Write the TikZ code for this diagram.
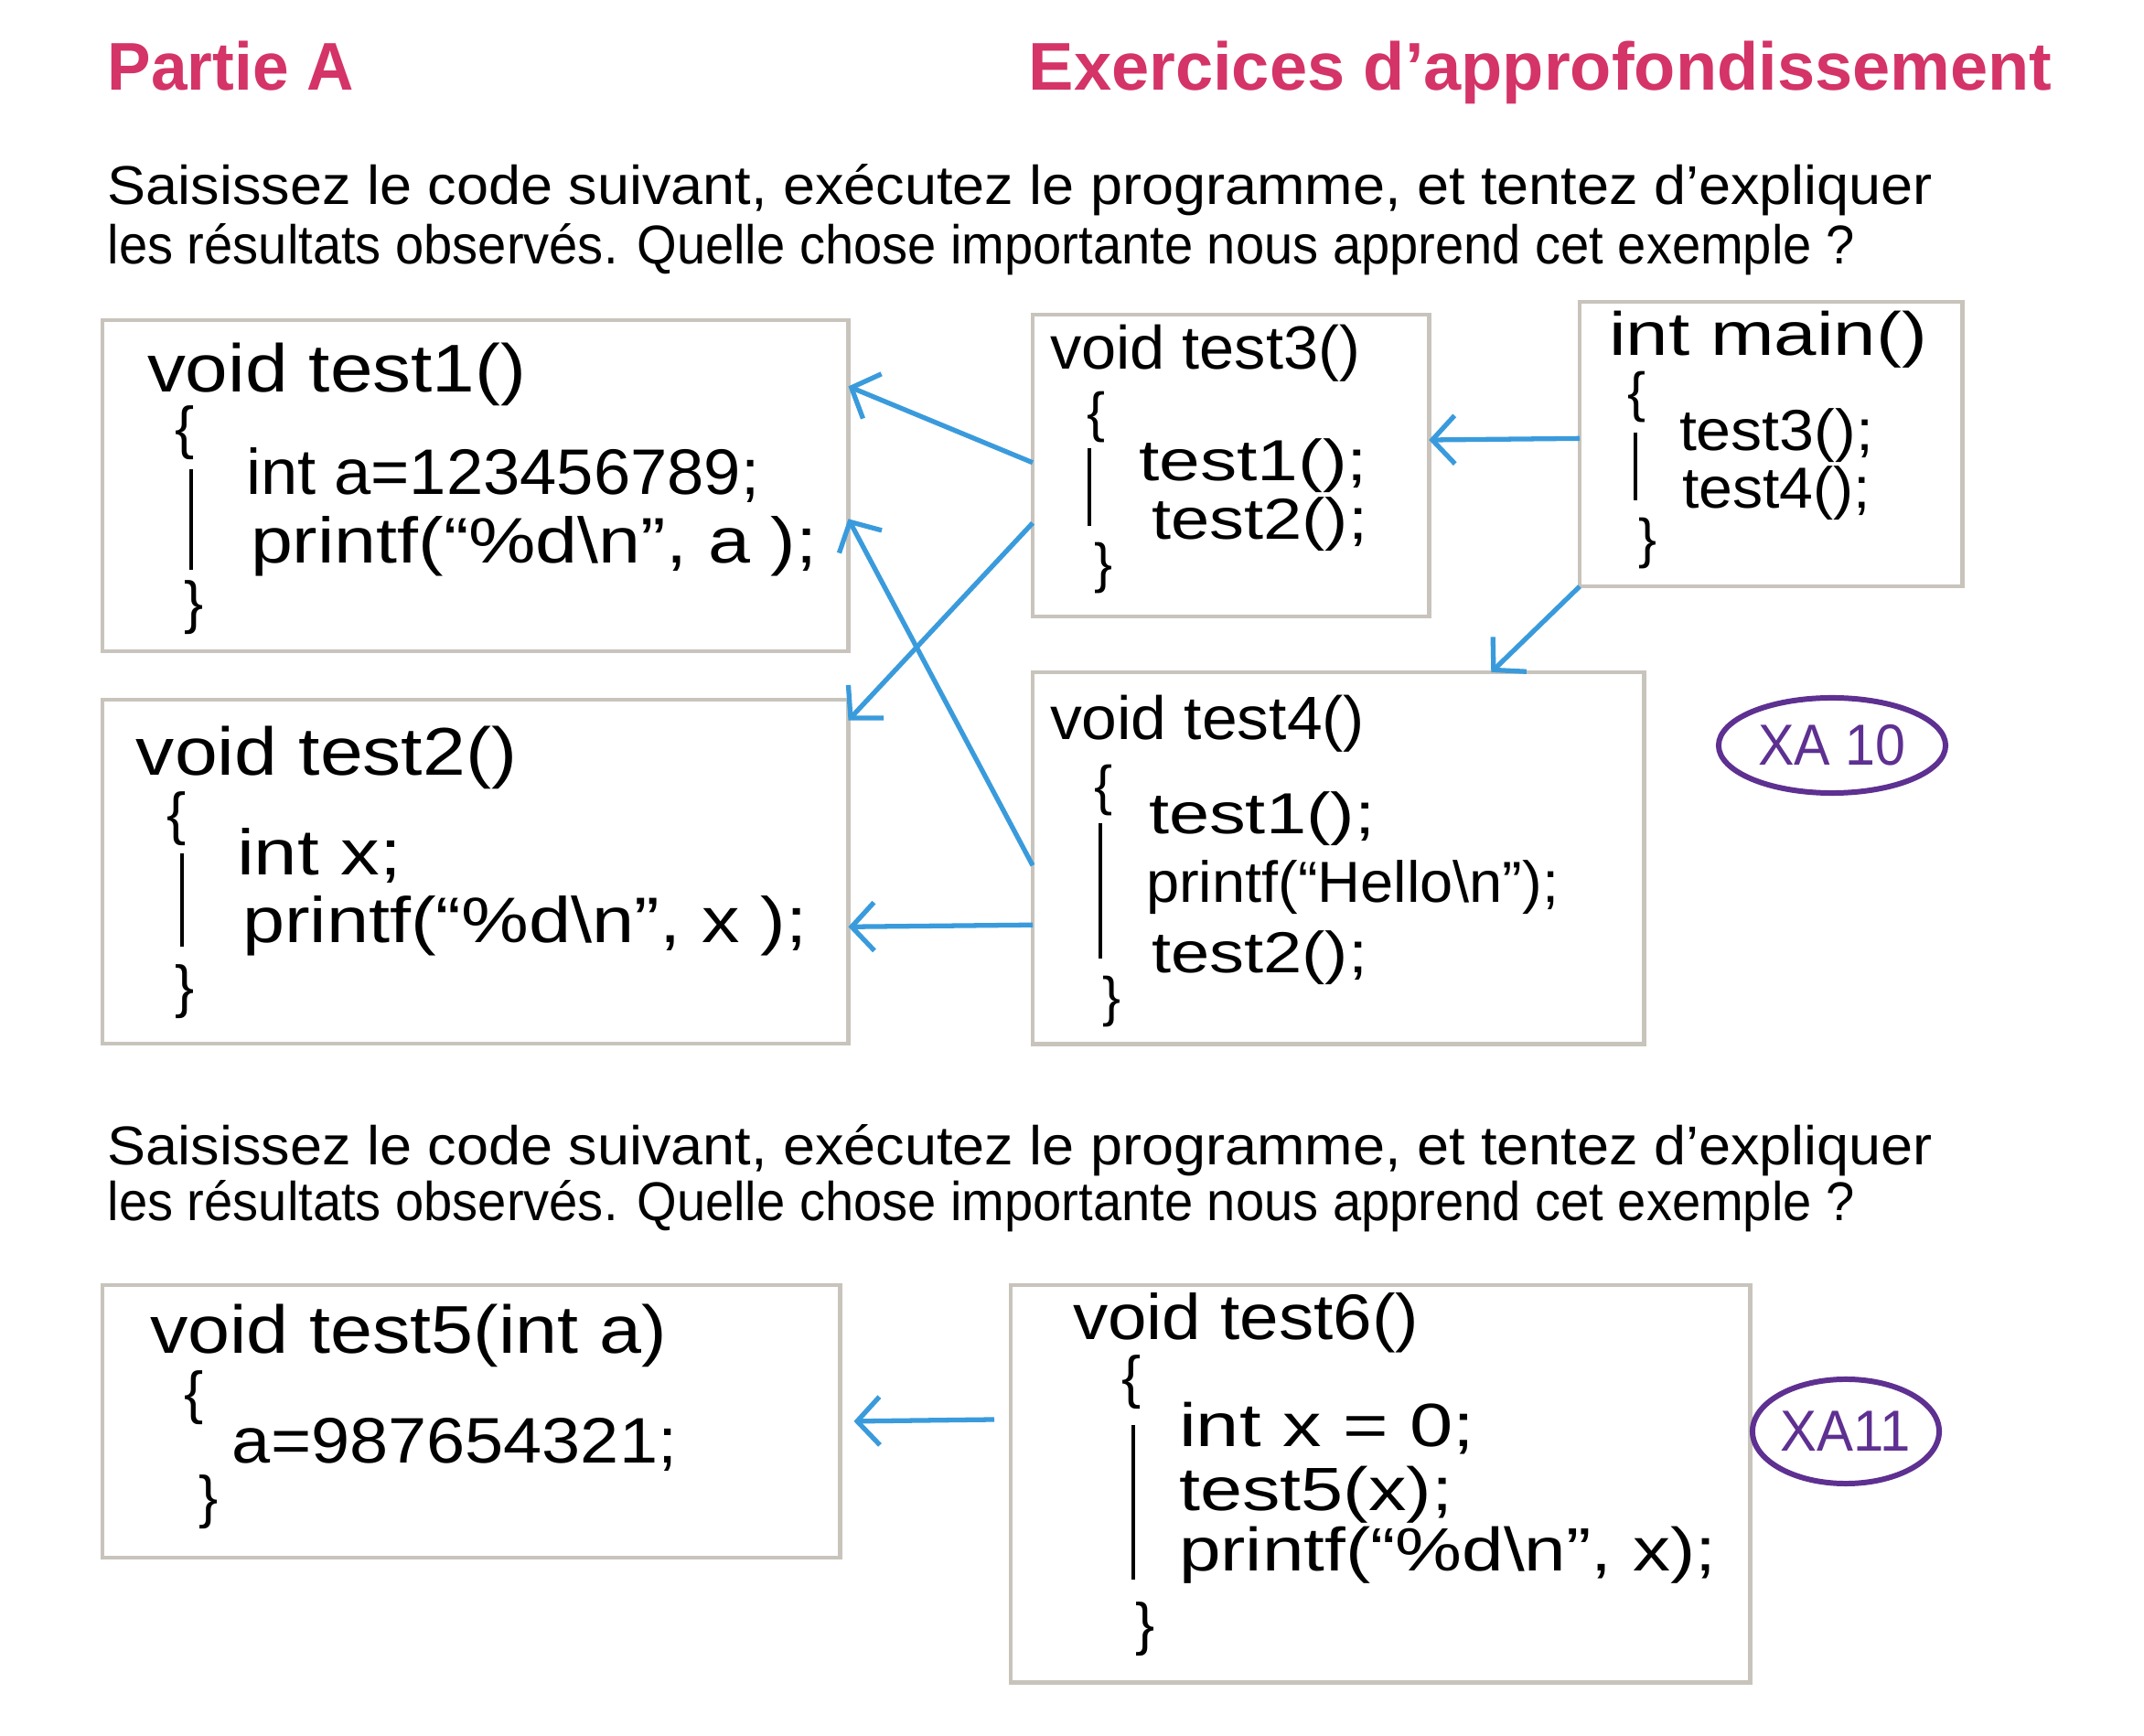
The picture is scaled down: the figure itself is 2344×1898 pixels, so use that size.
\documentclass[tikz,border=0pt]{standalone}
\usepackage{fontspec}
\usepackage{graphicx}
\setmainfont{Liberation Sans}
\usetikzlibrary{arrows.meta,calc,shapes.geometric}
\definecolor{pinkT}{RGB}{212,52,104}
\definecolor{blueA}{RGB}{58,155,220}
\definecolor{purpleC}{RGB}{94,48,145}
\definecolor{grayB}{RGB}{200,196,188}
\newcommand{\fw}[2]{\resizebox{#1cm}{\height}{#2}}
\tikzset{
  box/.style={draw=grayB, line width=1.3pt, fill=white, inner sep=0pt, outer sep=0pt, anchor=north west},
  code/.style={anchor=base west, inner sep=0pt, outer sep=0pt, font=\fontsize{#1}{#1}\selectfont},
  ttl/.style={anchor=base west, inner sep=0pt, text=pinkT, font=\fontsize{21}{25}\selectfont\bfseries},
  para/.style={anchor=base west, inner sep=0pt, font=\fontsize{17}{20}\selectfont},
  bar/.style={line width=1.3pt, black},
  arr/.style={blueA, line width=1.5pt, -{Straight Barb[length=7pt,width=15pt,line width=1.5pt]}},
  tag/.style={draw=purpleC, line width=1.7pt, ellipse, inner sep=0pt, text=purpleC, font=\fontsize{18}{20}\selectfont}
}
\begin{document}
\begin{tikzpicture}[x=0.01cm,y=-0.01cm]
\fill[white] (0,0) rectangle (2344,1898);
\useasboundingbox (0,0) rectangle (2344,1898);

% titles
\node[ttl] (pa) at (117,99) {\fw{2.69}{Partie A}};
\node[ttl] (ex) at (1124,99) {\fw{11.18}{Exercices d’approfondissement}};

% paragraph 1
\node[para] (p1a) at (117,224) {\fw{19.94}{Saisissez le code suivant, exécutez le programme, et tentez d’expliquer}};
\node[para] (p1b) at (117,289) {\fw{19.09}{les résultats observés. Quelle chose importante nous apprend cet exemple ?}};

% boxes
\node[box, minimum width=8.15cm, minimum height=3.62cm] (t1) at (112,350) {};
\node[box, minimum width=8.15cm, minimum height=3.76cm] (t2) at (112,765) {};
\node[box, minimum width=4.33cm, minimum height=3.30cm] (t3) at (1129,344) {};
\node[box, minimum width=4.18cm, minimum height=3.11cm] (tm) at (1727,330) {};
\node[box, minimum width=6.68cm, minimum height=4.06cm] (t4) at (1129,735) {};
\node[box, minimum width=8.06cm, minimum height=2.98cm] (t5) at (112,1405) {};
\node[box, minimum width=8.08cm, minimum height=4.34cm] (t6) at (1105,1405) {};

% test1
\node[code=21] (t1h) at (161,429) {\fw{4.14}{void test1()}};
\node[code=18] (t1o) at (191,490) {\{};
\draw[bar] (209,513) -- (209,623);
\node[code=18] (t1c) at (202,681) {\}};
\node[code=20] (t1l1) at (269,541) {\fw{5.61}{int a=123456789;}};
\node[code=20] (t1l2) at (274,616) {\fw{6.19}{printf(“\%d\textbackslash n”, a );}};

% test2
\node[code=21] (t2h) at (149,848) {\fw{4.16}{void test2()}};
\node[code=18] (t2o) at (182,912) {\{};
\draw[bar] (199,933) -- (199,1035);
\node[code=18] (t2c) at (191,1101) {\}};
\node[code=20] (t2l1) at (259,957) {\fw{1.80}{int x;}};
\node[code=20] (t2l2) at (265,1031) {\fw{6.17}{printf(“\%d\textbackslash n”, x );}};

% test3
\node[code=19] (t3h) at (1148,404) {\fw{3.39}{void test3()}};
\node[code=17] (t3o) at (1188,472) {\{};
\draw[bar] (1191,490) -- (1191,575);
\node[code=17] (t3c) at (1196,637) {\}};
\node[code=18] (t3l1) at (1245,526) {\fw{2.50}{test1();}};
\node[code=18] (t3l2) at (1259,590) {\fw{2.36}{test2();}};

% main
\node[code=19] (tmh) at (1759,389) {\fw{3.48}{int main()}};
\node[code=17] (tmo) at (1779,450) {\{};
\draw[bar] (1788,473) -- (1788,547);
\node[code=17] (tmc) at (1791,610) {\}};
\node[code=18] (tml1) at (1836,493) {\fw{2.12}{test3();}};
\node[code=18] (tml2) at (1839,556) {\fw{2.06}{test4();}};

% test4
\node[code=19] (t4h) at (1148,809) {\fw{3.44}{void test4()}};
\node[code=17] (t4o) at (1196,880) {\{};
\draw[bar] (1203,900) -- (1203,1048);
\node[code=17] (t4c) at (1205,1111) {\}};
\node[code=18] (t4l1) at (1256,912) {\fw{2.47}{test1();}};
\node[code=18] (t4l2) at (1253,987) {\fw{4.51}{printf(“Hello\textbackslash n”);}};
\node[code=18] (t4l3) at (1259,1064) {\fw{2.36}{test2();}};

% arrows, upper part
\draw[arr] ($(t3.north west)!0.49!(t3.south west)$) -- ($(t1.north east)!0.20!(t1.south east)$);
\draw[arr] ($(t3.north west)!0.69!(t3.south west)$) -- ($(t2.north east)!0.06!(t2.south east)$);
\draw[arr] ($(t4.north west)!0.52!(t4.south west)$) -- ($(t1.north east)!0.60!(t1.south east)$);
\draw[arr] ($(t4.north west)!0.68!(t4.south west)$) -- ($(t2.north east)!0.66!(t2.south east)$);
\draw[arr] ($(tm.north west)!0.48!(tm.south west)$) -- ($(t3.north east)!0.415!(t3.south east)$);
\draw[arr] (tm.south west) -- ($(t4.north west)!0.75!(t4.north east)$);

% tag XA 10
\node[tag, minimum width=2.48cm, minimum height=1.04cm] (xa10) at (2003,815) {\fw{1.61}{XA 10}};

% paragraph 2
\node[para] (p2a) at (117,1274) {\fw{19.94}{Saisissez le code suivant, exécutez le programme, et tentez d’expliquer}};
\node[para] (p2b) at (117,1335) {\fw{19.09}{les résultats observés. Quelle chose importante nous apprend cet exemple ?}};

% test5
\node[code=21] (t5h) at (164,1480) {\fw{5.65}{void test5(int a)}};
\node[code=18] (t5o) at (202,1545) {\{};
\node[code=20] (t5l1) at (254,1600) {\fw{4.86}{a=987654321;}};
\node[code=18] (t5c) at (217,1659) {\}};

% test6
\node[code=20] (t6h) at (1173,1465) {\fw{3.78}{void test6()}};
\node[code=18] (t6o) at (1226,1528) {\{};
\draw[bar] (1239,1558) -- (1239,1727);
\node[code=18] (t6c) at (1241,1798) {\}};
\node[code=19] (t6l1) at (1289,1582) {\fw{3.23}{int x = 0;}};
\node[code=19] (t6l2) at (1289,1652) {\fw{2.99}{test5(x);}};
\node[code=19] (t6l3) at (1289,1718) {\fw{5.87}{printf(“\%d\textbackslash n”, x);}};

% arrow, lower part
\coordinate (a7) at (1087,1552);
\draw[arr, shorten >=0.15cm] (a7) -- (t5.east);

% tag XA11
\node[tag, minimum width=2.04cm, minimum height=1.14cm] (xa11) at (2018,1565) {\fw{1.42}{XA11}};
\end{tikzpicture}
\end{document}
